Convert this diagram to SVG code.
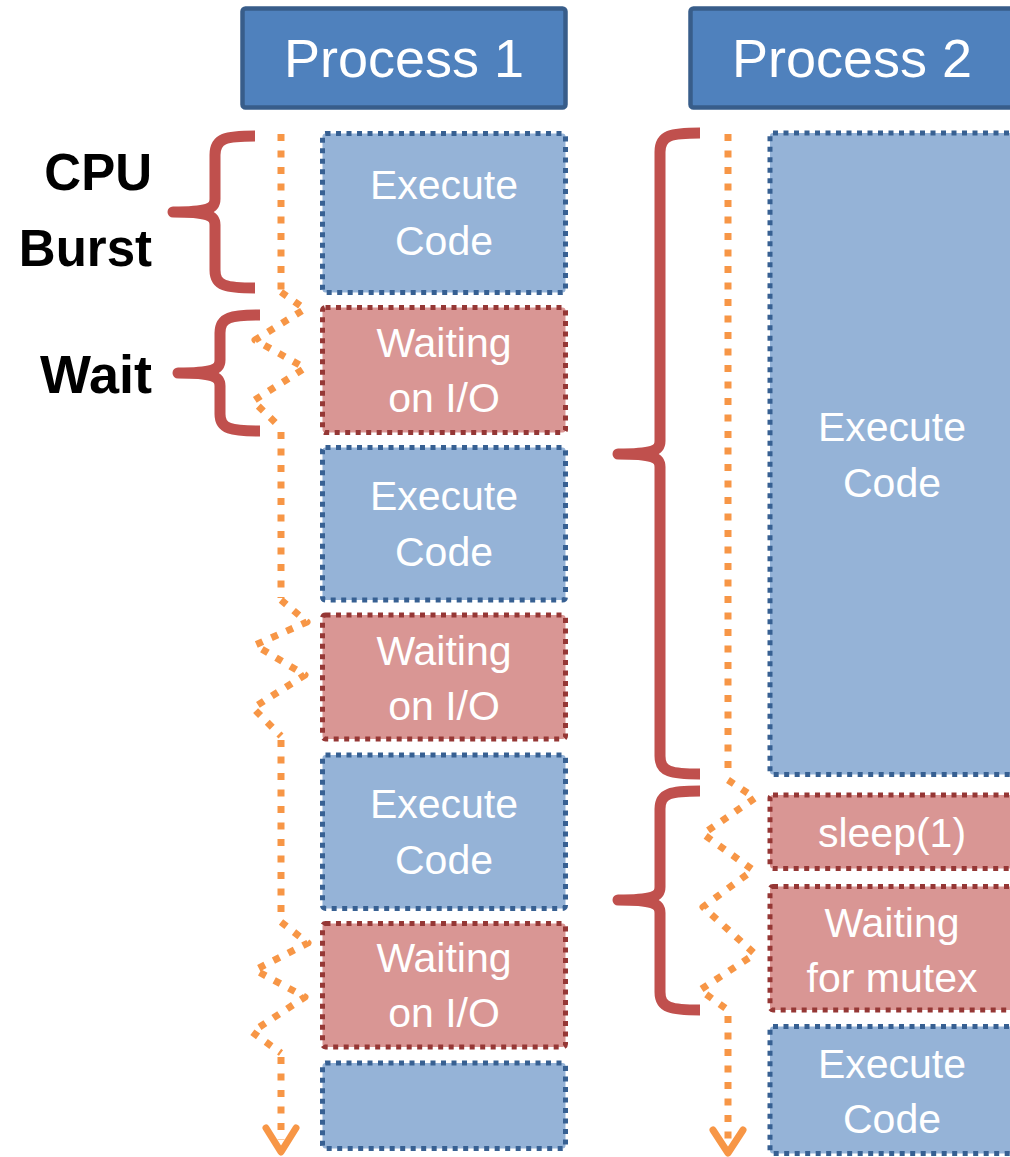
<svg xmlns="http://www.w3.org/2000/svg" width="1010" height="1157" viewBox="0 0 1010 1157">
  <defs>
    <style>
      .hdr { fill: #4f81bd; stroke: #385d8a; stroke-width: 4.5; }
      .hdr-t { font-family: "Liberation Sans", Arial, sans-serif; font-size: 54px; fill: #ffffff; text-anchor: middle; }
      .exec { fill: #95b3d7; stroke: #376092; stroke-width: 5; stroke-dasharray: 5 5.5; }
      .wait { fill: #d99694; stroke: #953735; stroke-width: 5; stroke-dasharray: 5 5.5; }
      .bt { font-family: "Liberation Sans", Arial, sans-serif; font-size: 41px; fill: #ffffff; text-anchor: middle; }
      .lbl { font-family: "Liberation Sans", Arial, sans-serif; font-size: 51px; font-weight: bold; fill: #000000; text-anchor: end; }
      .brace { fill: none; stroke: #c0504d; stroke-width: 11; stroke-linejoin: round; stroke-linecap: butt; }
      .flow { fill: none; stroke: #f79646; stroke-width: 7; stroke-dasharray: 7 9.5; stroke-linejoin: round; }
      .head { fill: none; stroke: #f79646; stroke-width: 7; stroke-linecap: round; stroke-linejoin: round; }
    </style>
  </defs>
  <rect width="1010" height="1157" fill="#ffffff"/>

  <!-- column headers -->
  <g id="process1">
    <rect class="hdr" x="242.5" y="8.5" width="323" height="99" rx="3"/>
    <text class="hdr-t" x="404" y="77">Process 1</text>
  </g>
  <g id="process2">
    <rect class="hdr" x="690.5" y="8.5" width="323" height="99" rx="3"/>
    <text class="hdr-t" x="852" y="77">Process 2</text>
  </g>

  <!-- side labels -->
  <g id="label-cpu-burst">
    <text class="lbl" x="152" y="190">CPU</text>
    <text class="lbl" x="152" y="266">Burst</text>
  </g>
  <g id="label-wait">
    <text class="lbl" x="152" y="393" style="font-size:54px">Wait</text>
  </g>

  <!-- process 1 timeline blocks -->
  <g id="p1-exec1">
    <rect class="exec" x="322.5" y="133.5" width="243" height="159" rx="3"/>
    <text class="bt" x="444" y="199">Execute</text>
    <text class="bt" x="444" y="255">Code</text>
  </g>
  <g id="p1-wait1">
    <rect class="wait" x="322.5" y="307.5" width="243" height="125" rx="3"/>
    <text class="bt" x="444" y="357">Waiting</text>
    <text class="bt" x="444" y="412">on I/O</text>
  </g>
  <g id="p1-exec2">
    <rect class="exec" x="322.5" y="447.5" width="243" height="152.5" rx="3"/>
    <text class="bt" x="444" y="510">Execute</text>
    <text class="bt" x="444" y="566">Code</text>
  </g>
  <g id="p1-wait2">
    <rect class="wait" x="322.5" y="615" width="243" height="124" rx="3"/>
    <text class="bt" x="444" y="665">Waiting</text>
    <text class="bt" x="444" y="720">on I/O</text>
  </g>
  <g id="p1-exec3">
    <rect class="exec" x="322.5" y="755" width="243" height="153.5" rx="3"/>
    <text class="bt" x="444" y="818">Execute</text>
    <text class="bt" x="444" y="874">Code</text>
  </g>
  <g id="p1-wait3">
    <rect class="wait" x="322.5" y="923.5" width="243" height="123.5" rx="3"/>
    <text class="bt" x="444" y="972">Waiting</text>
    <text class="bt" x="444" y="1027">on I/O</text>
  </g>
  <g id="p1-exec4">
    <rect class="exec" x="322.5" y="1063" width="243" height="85.5" rx="3"/>
  </g>

  <!-- process 2 timeline blocks -->
  <g id="p2-exec1">
    <rect class="exec" x="770" y="133" width="243" height="641.5" rx="3"/>
    <text class="bt" x="892" y="441">Execute</text>
    <text class="bt" x="892" y="497">Code</text>
  </g>
  <g id="p2-sleep">
    <rect class="wait" x="770" y="795" width="243" height="73.5" rx="3"/>
    <text class="bt" x="892" y="847">sleep(1)</text>
  </g>
  <g id="p2-mutex">
    <rect class="wait" x="770" y="886.5" width="243" height="123.5" rx="3"/>
    <text class="bt" x="892" y="937">Waiting</text>
    <text class="bt" x="892" y="992">for mutex</text>
  </g>
  <g id="p2-exec2">
    <rect class="exec" x="770" y="1026.5" width="243" height="127" rx="3"/>
    <text class="bt" x="892" y="1078">Execute</text>
    <text class="bt" x="892" y="1133">Code</text>
  </g>

  <!-- curly braces marking burst / wait spans -->
  <g id="braces">
    <path class="brace" d="M255,136 C226,136 215,138 215,155 L215,199 C215,209 207,212 173,212 C207,212 215,215 215,225 L215,270 C215,286 226,288 255,288"/>
    <path class="brace" d="M260,315 C231,315 220,317 220,333 L220,360 C220,370 212,373 178,373 C212,373 220,376 220,386 L220,414 C220,429 231,431 260,431"/>
    <path class="brace" d="M700,133 C671,133 660,135 660,152 L660,441 C660,451 652,454 618,454 C652,454 660,457 660,467 L660,756 C660,772 671,774 700,774"/>
    <path class="brace" d="M700,791 C671,791 660,793 660,809 L660,887 C660,897 652,900 618,900 C652,900 660,903 660,913 L660,992 C660,1008 671,1010 700,1010"/>
  </g>

  <!-- execution flow of each process -->
  <g id="connectors">
    <path class="flow" d="M281,134 L281,290"/>
    <polyline class="flow" points="281,292 305,309 255,340 305,368 253,401 281,428"/>
    <path class="flow" d="M281,432 L281,598"/>
    <polyline class="flow" points="281,600 307,622 255,645 305,675 253,708 281,736"/>
    <path class="flow" d="M281,740 L281,918"/>
    <polyline class="flow" points="281,922 308,943 255,970 305,997 252,1032 281,1053"/>
    <path class="flow" d="M281,1057 L281,1140"/>
    <polyline class="head" points="266,1128 281,1152 296,1128"/>

    <path class="flow" d="M728,134 L728,774"/>
    <polyline class="flow" points="728,780 755,798 703,834 753,870 703,907 755,954 700,990 728,1010"/>
    <path class="flow" d="M728,1016 L728,1140"/>
    <polyline class="head" points="713,1130 728,1153 743,1130"/>
  </g>
</svg>
